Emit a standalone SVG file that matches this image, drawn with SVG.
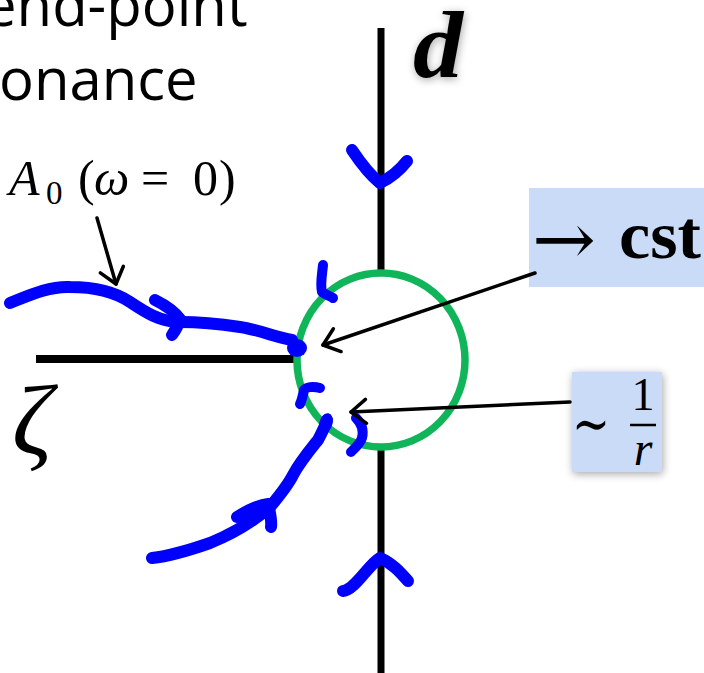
<svg xmlns="http://www.w3.org/2000/svg" width="704" height="673" viewBox="0 0 704 673">
<defs>
<style>
.title{font-family:"Open Sans","Noto Sans",sans-serif;font-size:58px;fill:#000}
.math{font-family:"Liberation Serif","DejaVu Serif",serif;fill:#000}
.sym{font-family:"DejaVu Serif","Liberation Serif",serif;fill:#000}
.axis{stroke:#000;stroke-width:7;fill:none}
.blue{stroke:#0000ff;stroke-width:12;fill:none;stroke-linecap:round;stroke-linejoin:round}
.mark{stroke:#0000ff;stroke-width:10;fill:none;stroke-linecap:round;stroke-linejoin:round}
.conn{stroke:#000;stroke-width:3.5;fill:none;stroke-linecap:round}
.box{fill:#c9dbf6}
</style>
<marker id="open" markerUnits="userSpaceOnUse" markerWidth="40" markerHeight="40" viewBox="-20 -20 40 40" refX="0" refY="0" orient="auto">
<path d="M-15,-12 L0,0 L-15,12" fill="none" stroke="#000" stroke-width="3.5" stroke-linecap="round" stroke-linejoin="round"/>
</marker>
<filter id="shadow" x="-30%" y="-30%" width="160%" height="160%">
<feGaussianBlur in="SourceAlpha" stdDeviation="4"/>
<feOffset dx="1" dy="2" result="b"/>
<feComponentTransfer><feFuncA type="linear" slope="0.35"/></feComponentTransfer>
<feMerge><feMergeNode/><feMergeNode in="SourceGraphic"/></feMerge>
</filter>
</defs>
<rect width="704" height="673" fill="#fff"/>

<g id="title">
<text class="title" x="-16" y="26">end-point</text>
<text class="title" x="-1" y="100">onance</text>
</g>

<g id="axes">
<line class="axis" x1="381" y1="28" x2="381" y2="272"/>
<line class="axis" x1="381" y1="448" x2="381" y2="673"/>
<line class="axis" x1="36" y1="359" x2="297" y2="359" style="stroke-width:8"/>
</g>

<g id="circle">
<ellipse cx="381" cy="360" rx="84" ry="87" fill="none" stroke="#10b55a" stroke-width="7.5"/>
</g>

<g id="label-d">
<text class="math" x="413" y="77" font-size="96" font-style="italic" font-weight="bold" textLength="50" lengthAdjust="spacingAndGlyphs" filter="url(#shadow)">d</text>
</g>

<g id="label-zeta">
<text class="math" x="12" y="454" font-size="100" font-style="italic">ζ</text>
</g>

<g id="label-A0">
<text class="math" font-size="50"><tspan x="9" y="195" font-style="italic">A</tspan><tspan x="46" y="204" font-size="33">0</tspan><tspan x="78" y="195">(</tspan><tspan x="94" y="195" font-style="italic">ω</tspan><tspan x="141" y="195">=</tspan><tspan x="193" y="195">0</tspan><tspan x="219" y="195">)</tspan></text>
</g>

<g id="label-cst">
<rect class="box" x="529" y="188" width="175" height="99"/>
<text class="sym" x="532" y="264" font-size="72" textLength="64" lengthAdjust="spacingAndGlyphs">→</text>
<text class="math" x="619" y="258" font-size="68" font-weight="bold" textLength="82" lengthAdjust="spacingAndGlyphs">cst</text>
</g>

<g id="label-1r">
<rect class="box" x="572" y="372" width="90" height="100" filter="url(#shadow)"/>
<text class="sym" x="572" y="444" font-size="60" textLength="38" lengthAdjust="spacingAndGlyphs">∼</text>
<text class="math" x="643" y="410" font-size="46" text-anchor="middle">1</text>
<line x1="630" y1="425" x2="656" y2="425" stroke="#000" stroke-width="2.5"/>
<text class="math" x="643" y="465" font-size="48" font-style="italic" text-anchor="middle">r</text>
</g>

<g id="paths">
<path class="blue" d="M10,303 C30,295 50,286 70,287 C95,287 115,292 130,302 C145,312 160,322 180,322 C200,322 220,324 240,327 C260,330 275,337 292,340"/>
<path class="blue" d="M155,300 C165,305 175,312 180,319 C178,326 175,331 172,335"/>
<ellipse cx="297" cy="348" rx="10" ry="9" fill="#0000ff"/>
<path class="blue" d="M152,558 C170,556 190,550 210,543 C235,533 255,520 270,507 C280,495 288,485 293,475 C300,462 310,450 318,440 C322,432 326,425 327,420"/>
<ellipse cx="326" cy="423" rx="6.5" ry="10" transform="rotate(15 326 423)" fill="#0000ff"/>
<path class="blue" d="M237,517 C248,510 258,505 268,504 C270,512 272,520 271,527"/>
<path class="blue" d="M352,150 C360,162 370,175 380,183 C390,178 400,170 407,161"/>
<path class="blue" d="M343,591 C355,590 368,565 380,558 C392,563 400,572 408,581"/>
<path class="mark" d="M323,265 C322,275 320,285 322,292 C326,295 330,296 333,298"/>
<path class="mark" d="M320,388 C313,386 306,387 304,390 C303,395 302,400 300,404"/>
<path class="mark" d="M356,418 C362,424 364,430 362,438 C360,444 355,448 351,452"/>
</g>

<g id="connectors">
<line class="conn" x1="97" y1="218" x2="116" y2="284" marker-end="url(#open)"/>
<line class="conn" x1="535" y1="273" x2="323" y2="345" marker-end="url(#open)"/>
<line class="conn" x1="570" y1="402" x2="351" y2="412" marker-end="url(#open)"/>
</g>
</svg>
